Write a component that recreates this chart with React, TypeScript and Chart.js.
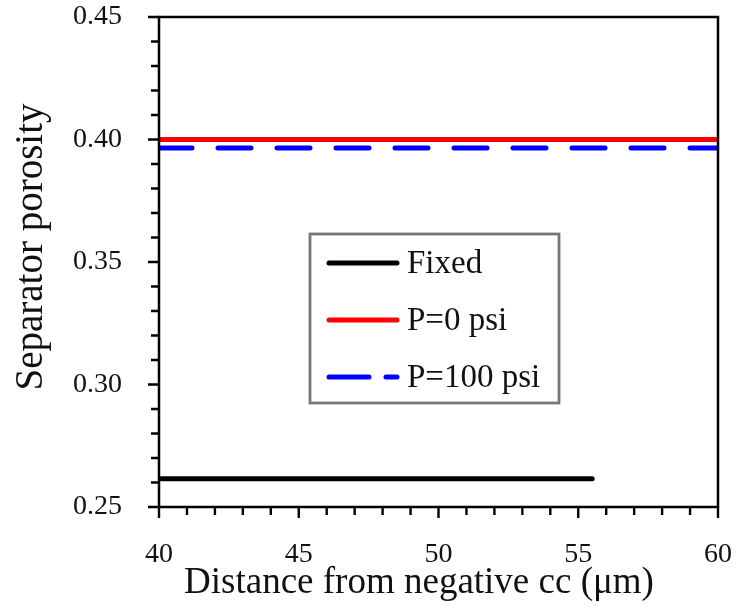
import React, { useEffect, useRef } from "react";
import { Chart, registerables } from "chart.js";

Chart.register(...registerables);

const fixedX = [40, 55.5];
const fixedY = [0.2615, 0.2615];
const p0X = [40, 60];
const p0Y = [0.4, 0.4];
const p100X = [40, 60];
const p100Y = [0.3965, 0.3965];
const seriesLabels = ["Fixed", "P=0 psi", "P=100 psi"];
const xTicksMajor = [40, 45, 50, 55, 60];
const yTicksMajor = [0.25, 0.3, 0.35, 0.4, 0.45];
const xTitle = "Distance from negative cc (\u03bcm)";
const yTitle = "Separator porosity";

const SERIF = "'Liberation Serif', 'Times New Roman', serif";

const W = 743;
const H = 606;
const AREA = { left: 159, right: 718, top: 17, bottom: 507 };

const toPts = (xs: number[], ys: number[]) => xs.map((x, i) => ({ x, y: ys[i] }));

const zeroPad = (s: any) => {
  s.paddingTop = 0;
  s.paddingBottom = 0;
  s.paddingLeft = 0;
  s.paddingRight = 0;
};

const decorPlugin = {
  id: "decor",
  afterDatasetsDraw(chart: any) {
    const ctx = chart.ctx as CanvasRenderingContext2D;
    const ca = chart.chartArea;
    const xs = chart.scales.x;
    const ys = chart.scales.y;
    ctx.save();
    // frame
    ctx.strokeStyle = "#000";
    ctx.lineWidth = 2.5;
    ctx.strokeRect(ca.left, ca.top, ca.right - ca.left, ca.bottom - ca.top);
    // ticks
    ctx.lineWidth = 2.4;
    ctx.beginPath();
    for (let i = 0; i <= 20; i++) {
      const v = xs.min + i;
      const px = xs.getPixelForValue(v);
      const len = i % 5 === 0 ? 11 : 8;
      ctx.moveTo(px, ca.bottom);
      ctx.lineTo(px, ca.bottom + len);
    }
    for (let i = 0; i <= 20; i++) {
      const v = ys.min + i * 0.01;
      const py = ys.getPixelForValue(v);
      const len = i % 5 === 0 ? 11 : 8;
      ctx.moveTo(ca.left, py);
      ctx.lineTo(ca.left - len, py);
    }
    ctx.stroke();

    // titles
    ctx.fillStyle = "#111";
    ctx.font = `37px ${SERIF}`;
    ctx.textAlign = "center";
    ctx.textBaseline = "middle";
    ctx.fillText(xTitle, 419, 583);
    ctx.save();
    ctx.translate(32, 247);
    ctx.rotate(-Math.PI / 2);
    ctx.font = `39px ${SERIF}`;
    ctx.fillText(yTitle, 0, 0);
    ctx.restore();

    // legend
    const bx = 310, by = 234, bw = 249, bh = 169;
    ctx.fillStyle = "#fff";
    ctx.fillRect(bx, by, bw, bh);
    ctx.strokeStyle = "#777";
    ctx.lineWidth = 2.8;
    ctx.strokeRect(bx, by, bw, bh);
    const rows = [263, 320, 377];
    chart.data.datasets.forEach((ds: any, i: number) => {
      const y = rows[i];
      ctx.save();
      ctx.strokeStyle = ds.borderColor;
      ctx.lineWidth = ds.borderWidth;
      ctx.lineCap = "round";
      if (ds.borderDash && ds.borderDash.length) ctx.setLineDash([40, 17]);
      ctx.beginPath();
      ctx.moveTo(329, y);
      ctx.lineTo(397, y);
      ctx.stroke();
      ctx.restore();
      ctx.fillStyle = "#111";
      ctx.font = `33px ${SERIF}`;
      ctx.textAlign = "left";
      ctx.textBaseline = "middle";
      ctx.fillText(ds.label, 407, y + 1);
    });
    ctx.restore();
  },
};

export default function App() {
  const ref = useRef<HTMLCanvasElement | null>(null);
  useEffect(() => {
    if (!ref.current) return;
    const chart = new Chart(ref.current, {
      type: "line",
      data: {
        datasets: [
          {
            label: seriesLabels[0],
            data: toPts(fixedX, fixedY),
            borderColor: "#000000",
            borderWidth: 5,
            borderCapStyle: "round",
            pointRadius: 0,
          },
          {
            label: seriesLabels[1],
            data: toPts(p0X, p0Y),
            borderColor: "#ff0000",
            borderWidth: 5,
            pointRadius: 0,
          },
          {
            label: seriesLabels[2],
            data: toPts(p100X, p100Y),
            borderColor: "#0000ff",
            borderWidth: 5,
            borderDash: [33, 26],
            borderCapStyle: "round",
            pointRadius: 0,
          },
        ],
      },
      options: {
        animation: false,
        responsive: false,
        layout: { padding: { top: AREA.top, right: W - AREA.right, left: 0, bottom: 0 } },
        plugins: { legend: { display: false }, tooltip: { enabled: false } },
        scales: {
          x: {
            type: "linear",
            min: 40,
            max: 60,
            grid: { display: false, drawTicks: false },
            border: { display: false },
            afterBuildTicks: (s: any) => {
              s.ticks = xTicksMajor.map((v) => ({ value: v }));
            },
            afterFit: (s: any) => {
              s.height = H - AREA.bottom;
              zeroPad(s);
            },
            ticks: {
              padding: 31,
              color: "#111",
              font: { family: SERIF, size: 28 },
              callback: (v: any) => String(v),
            },
          },
          y: {
            type: "linear",
            min: 0.25,
            max: 0.45,
            grid: { display: false, drawTicks: false },
            border: { display: false },
            afterBuildTicks: (s: any) => {
              s.ticks = yTicksMajor.map((v) => ({ value: v }));
            },
            afterFit: (s: any) => {
              s.width = AREA.left;
              zeroPad(s);
            },
            ticks: {
              padding: 37,
              color: "#111",
              font: { family: SERIF, size: 28 },
              callback: (v: any) => Number(v).toFixed(2),
            },
          },
        },
      },
      plugins: [decorPlugin],
    });
    return () => chart.destroy();
  }, []);
  return (
    <div style={{ position: "absolute", left: 0, top: 0, width: W, height: H, background: "#fff" }}>
      <canvas ref={ref} width={W} height={H} style={{ display: "block" }} />
    </div>
  );
}
